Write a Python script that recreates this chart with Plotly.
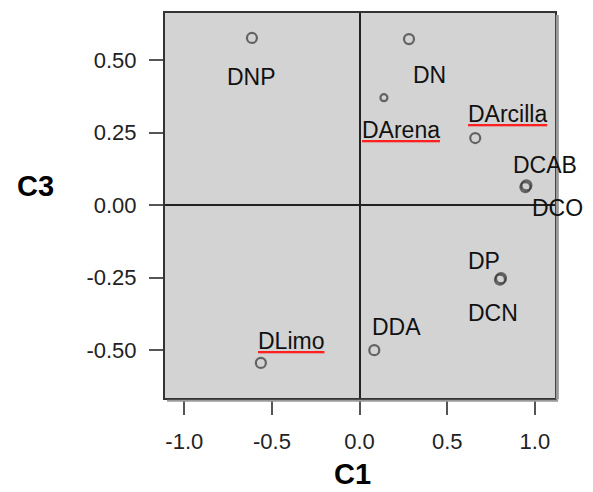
import plotly.graph_objects as go

# ---- data ----
labels = ["DNP", "DN", "DArena", "DArcilla", "DCAB", "DCO", "DP", "DCN", "DLimo", "DDA"]
c1 = [-0.614, 0.282, 0.139, 0.660, 0.952, 0.946, 0.807, 0.801, -0.563, 0.084]
c3 = [0.576, 0.572, 0.370, 0.231, 0.068, 0.062, -0.252, -0.257, -0.544, -0.500]

x_ticks = [-1.0, -0.5, 0.0, 0.5, 1.0]
x_ticktext = ["-1.0", "-0.5", "0.0", "0.5", "1.0"]
y_ticks = [-0.50, -0.25, 0.0, 0.25, 0.50]
y_ticktext = ["-0.50", "-0.25", "0.00", "0.25", "0.50"]

# label offsets in pixels (style, not data)
label_shift = {
    "DNP": (0, -39), "DN": (21, -36), "DArena": (17, -32), "DArcilla": (32, 24),
    "DCAB": (19, 20), "DCO": (32, -21), "DP": (-17, 17), "DCN": (-7, -33),
    "DLimo": (30, 22), "DDA": (22, 23),
}
spell_flagged = {"DArena", "DArcilla", "DLimo"}
marker_size = [10, 10, 7, 10, 10, 10, 10, 10, 10, 10]

FONT = "Liberation Sans, Arial, sans-serif"

fig = go.Figure()
fig.add_trace(go.Scatter(
    x=c1, y=c3, mode="markers",
    marker=dict(symbol="circle-open", size=marker_size, color="#333333",
                line=dict(width=2.2, color="#333333")),
    hoverinfo="text", text=labels, showlegend=False,
))

annotations = []
for lab, xv, yv in zip(labels, c1, c3):
    dx, dy = label_shift[lab]
    txt = lab
    if lab in spell_flagged:
        txt = ('<span style="color:#ff2020; text-decoration: underline wavy;">'
               '<span style="color:#111111;">' + lab + '</span></span>')
    annotations.append(dict(
        x=xv, y=yv, xref="x", yref="y", text=txt, showarrow=False,
        xshift=dx, yshift=dy, font=dict(family=FONT, size=23, color="#111111"),
    ))

annotations.append(dict(x=0.5, y=0, xref="paper", yref="paper", text="<b>C1</b>",
                        showarrow=False, xanchor="center", yanchor="middle",
                        xshift=-8, yshift=-(474 - 398), borderpad=0,
                        font=dict(family=FONT, size=29, color="#000000")))
annotations.append(dict(x=(35 - 165) / (555 - 165), y=0.0, xref="paper", yref="y",
                        text="<b>C3</b>", showarrow=False, xanchor="center",
                        yanchor="middle", yshift=19, borderpad=0,
                        font=dict(family=FONT, size=29, color="#000000")))

fig.update_layout(
    width=593, height=492,
    margin=dict(l=165, r=38, t=11, b=94),
    paper_bgcolor="white", plot_bgcolor="#d3d3d3",
    annotations=annotations,
    font=dict(family=FONT, size=23, color="#111111"),
    shapes=[
        dict(type="line", xref="paper", yref="paper", x0=1.006, x1=1.006,
             y0=-0.004, y1=0.995, line=dict(color="#9a9a9a", width=3)),
        dict(type="line", xref="paper", yref="paper", x0=0.005, x1=1.008,
             y0=-0.007, y1=-0.007, line=dict(color="#9a9a9a", width=2)),
    ],
)
fig.update_xaxes(
    range=[-1.11, 1.115], tickvals=x_ticks, ticktext=x_ticktext,
    showgrid=False, zeroline=True, zerolinecolor="#222222", zerolinewidth=1.5,
    showline=True, linecolor="#333333", linewidth=2, mirror=True,
    ticks="outside", ticklen=15, tickwidth=2, tickcolor="#555555",
    ticklabelstandoff=8, tickfont=dict(family=FONT, size=22, color="#222222"),
)
fig.update_yaxes(
    range=[-0.665, 0.662], tickvals=y_ticks, ticktext=y_ticktext,
    showgrid=False, zeroline=True, zerolinecolor="#222222", zerolinewidth=1.5,
    showline=True, linecolor="#333333", linewidth=2, mirror=True,
    ticks="outside", ticklen=14, tickwidth=2, tickcolor="#555555",
    ticklabelstandoff=8, tickfont=dict(family=FONT, size=22, color="#222222"),
)

fig.write_html("out.html")
